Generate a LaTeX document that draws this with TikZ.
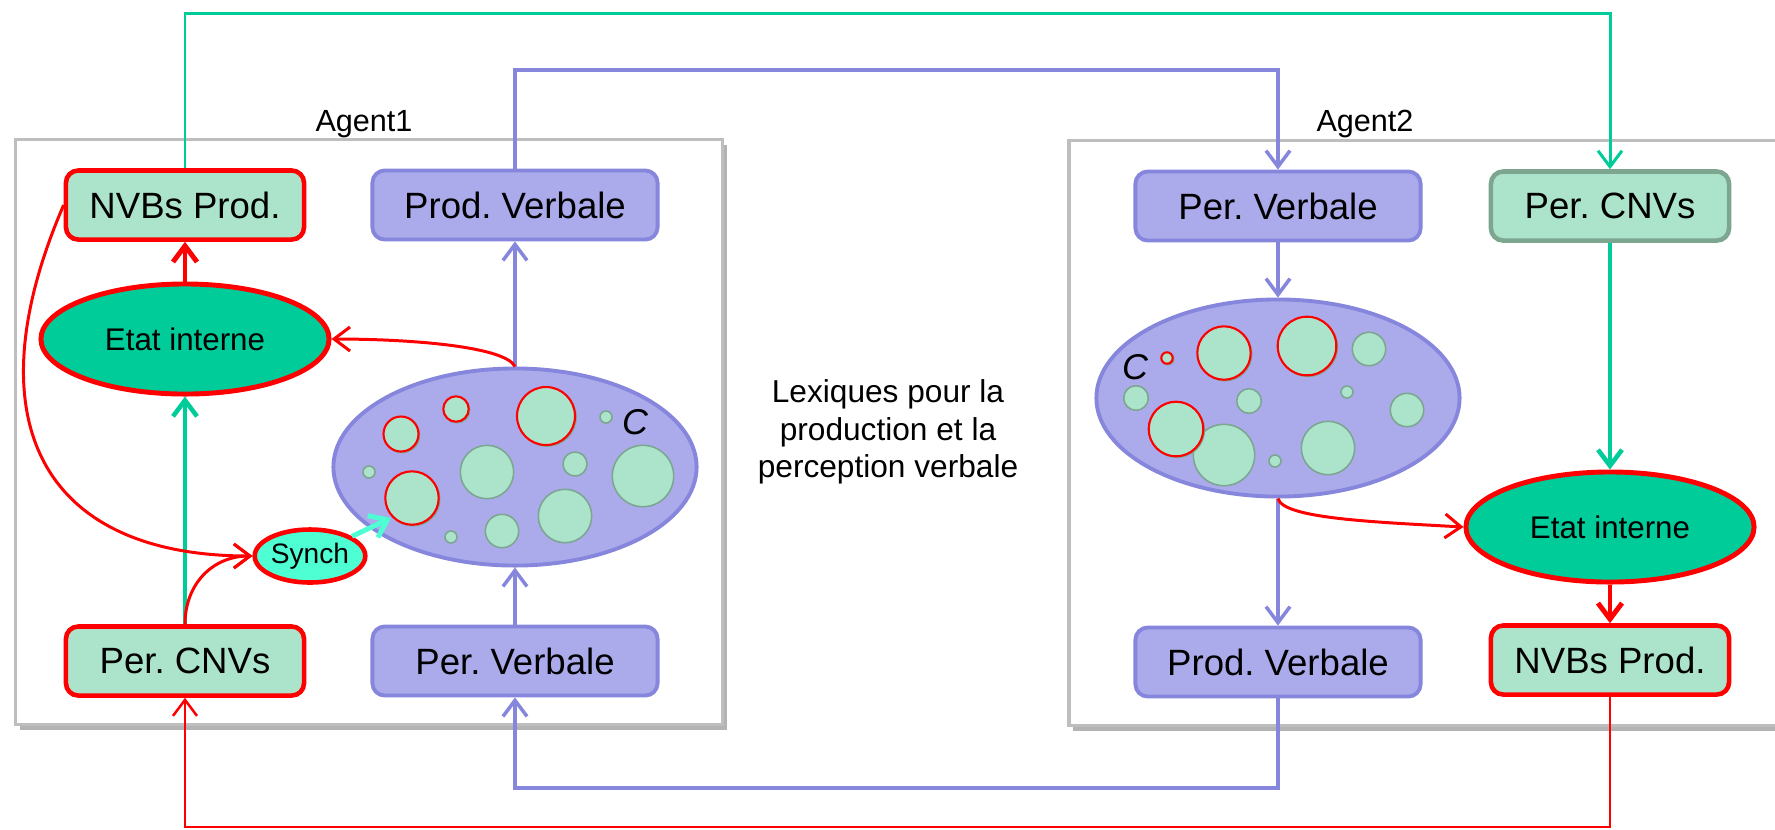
\documentclass[tikz,border=0pt]{standalone}
\usepackage{fontspec}
\setmainfont{Liberation Sans}
\usetikzlibrary{positioning,arrows.meta,shapes.geometric,shadows}
\frenchspacing

\definecolor{menthe}{RGB}{172,228,203}
\definecolor{lavande}{RGB}{171,171,236}
\definecolor{violet}{RGB}{134,134,221}
\definecolor{vertetat}{RGB}{0,204,153}
\definecolor{vertsynch}{RGB}{77,255,210}
\definecolor{sauge}{RGB}{125,166,145}
\definecolor{grisagent}{RGB}{190,190,190}

\tikzset{
  agent/.style={rectangle, draw=grisagent, line width=1pt, fill=white, inner sep=0pt,
                drop shadow={shadow xshift=1.2pt, shadow yshift=-1.5pt, fill=black!50, opacity=0.6}},
  agentlbl/.style={font=\fontsize{8.7}{10}\selectfont, anchor=base},
  nvb/.style={rectangle, rounded corners=3.5pt, draw=red, line width=1.3pt, fill=menthe,
              minimum width=2.38cm, minimum height=0.69cm, inner sep=2pt,
              font=\fontsize{10.4}{12}\selectfont},
  cnv/.style={nvb, draw=sauge},
  verb/.style={nvb, draw=violet, line width=1.1pt, fill=lavande, minimum width=2.85cm},
  etat/.style={ellipse, draw=red, line width=1.4pt, fill=vertetat, inner sep=0pt,
               minimum width=2.88cm, minimum height=1.1cm, font=\fontsize{8.9}{10}\selectfont},
  synchn/.style={ellipse, draw=red, line width=1.3pt, fill=vertsynch, inner sep=0pt,
                 minimum width=1.08cm, minimum height=0.53cm, font=\fontsize{8}{9}\selectfont},
  lexique/.style={ellipse, draw=violet, line width=1.1pt, fill=lavande, inner sep=0pt,
                  minimum width=3.63cm, minimum height=1.97cm},
  bulle/.style={draw=sauge, line width=0.45pt, fill=menthe},
  bullerouge/.style={draw=red, line width=0.6pt, fill=menthe},
  pointe/.style={-{Straight Barb[length=1.6mm,width=2.4mm]}},
  lnvert/.style={draw=vertetat, line width=0.85pt},
  lnviolet/.style={draw=violet, line width=1pt},
  lnrouge/.style={draw=red, line width=0.7pt},
  flvert/.style={pointe, draw=vertetat, line width=1.3pt},
  flviolet/.style={pointe, draw=violet, line width=1pt},
  flrouge/.style={pointe, draw=red, line width=0.85pt},
  flrougeep/.style={pointe, draw=red, line width=1.4pt},
  flsynch/.style={pointe, draw=vertsynch, line width=1.4pt},
}

\begin{document}
\begin{tikzpicture}[x=0.01cm, y=-0.01cm]
\useasboundingbox (0,0) rectangle (1775,829);

% les deux agents
\node[agent, minimum width=7.07cm, minimum height=5.85cm] (agentA) at (369,432) {};
\node[agent, minimum width=7.3cm, minimum height=5.85cm] (agentB) at (1434,433) {};
\node[agentlbl] (labA) at (364,131) {Agent1};
\node[agentlbl] (labB) at (1365,131) {Agent2};

% Agent1
\node[nvb] (nvbA) at (185,205) {NVBs Prod.};
\node[verb] (pvA) at (515,205) {Prod. Verbale};
\node[etat] (etatA) at (185,339) {Etat interne};
\node[lexique] (lexA) at (515,467) {};
\node[synchn] (synch) at (310,556) {Synch};
\node[nvb] (pcA) at (185,661) {Per. CNVs};
\node[verb] (perA) at (515,661) {Per. Verbale};

% Agent2
\node[verb] (pvB) at (1278,206) {Per. Verbale};
\node[cnv] (pcB) at (1610,206) {Per. CNVs};
\node[lexique] (lexB) at (1278,398) {};
\node[etat] (etatB) at (1610,527) {Etat interne};
\node[verb] (prB) at (1278,662) {Prod. Verbale};
\node[nvb] (nvbB) at (1610,660) {NVBs Prod.};

\node[align=center, font=\fontsize{9}{10.7}\selectfont] (lex) at (888,432)
  {Lexiques pour la\\ production et la\\ perception verbale};

% bulles du lexique 1
\foreach \x/\y/\r in {369/472/6, 487/472/26.7, 575/464/12, 643/476/30.7,
                      565/516/26.7, 502/531/16.7, 451/537/6, 606/417/6}
  \draw[bulle] (\x,\y) circle[radius=\r];
\foreach \x/\y/\r in {401/434/17.5, 456/409/12.7, 546/416/29, 412/498/26.7}{
  \draw[bulle] (\x+1,\y+1) circle[radius=\r];
  \draw[bullerouge] (\x,\y) circle[radius=\r];
}
\node[font=\fontsize{10.2}{12}\selectfont\itshape] (cA) at (635,422) {C};

% bulles du lexique 2
\foreach \x/\y/\r in {1136/398/12.3, 1249/401/12.3, 1347/392/6, 1224/455/30.7,
                      1275/461/6, 1328/448/26.7, 1369/349/16.7, 1407/410/16.7}
  \draw[bulle] (\x,\y) circle[radius=\r];
\foreach \x/\y/\r in {1167/358/5.7, 1224/353/26.7, 1307/346/29.3, 1176/429/27.3}{
  \draw[bulle] (\x+1,\y+1) circle[radius=\r];
  \draw[bullerouge] (\x,\y) circle[radius=\r];
}
\node[font=\fontsize{10.2}{12}\selectfont\itshape] (cB) at (1135,367) {C};

% liens entre agents
\coordinate (hautV) at (900,13);
\coordinate (hautP) at (900,70);
\coordinate (basP) at (900,788);
\coordinate (basR) at (900,827);
\draw[lnvert, pointe] (nvbA.north) |- (hautV) -| (pcB.north);
\draw[lnviolet, pointe] (pvA.north) |- (hautP) -| (pvB.north);
\draw[lnviolet, pointe] (prB.south) |- (basP) -| (perA.south);
\draw[lnrouge, pointe] (nvbB.south) |- (basR) -| (pcA.south);

% fleches internes Agent1
\draw[flvert] (pcA) -- (etatA);
\draw[flrougeep] (etatA) -- (nvbA);
\draw[flviolet] (perA) -- (lexA);
\draw[flviolet] (lexA) -- (pvA);
\draw[flrouge] (lexA.north) .. controls +(-10,-20) and +(80,0) .. (etatA.east);
\draw[flrouge] (nvbA.west) .. controls +(-92,213) and +(-213,0) .. (synch.west);
\draw[flrouge] (pcA.north) .. controls +(0,-40) and +(-40,0) .. (synch.west);
\coordinate (cible) at (391,518);
\draw[flsynch] (synch) -- (cible);

% fleches internes Agent2
\draw[flviolet] (pvB) -- (lexB);
\draw[flviolet] (lexB) -- (prB);
\draw[flvert] (pcB) -- (etatB);
\draw[flrougeep] (etatB) -- (nvbB);
\draw[flrouge] (lexB.south) .. controls +(5,20) and +(-90,-5) .. (etatB.west);
\end{tikzpicture}
\end{document}
